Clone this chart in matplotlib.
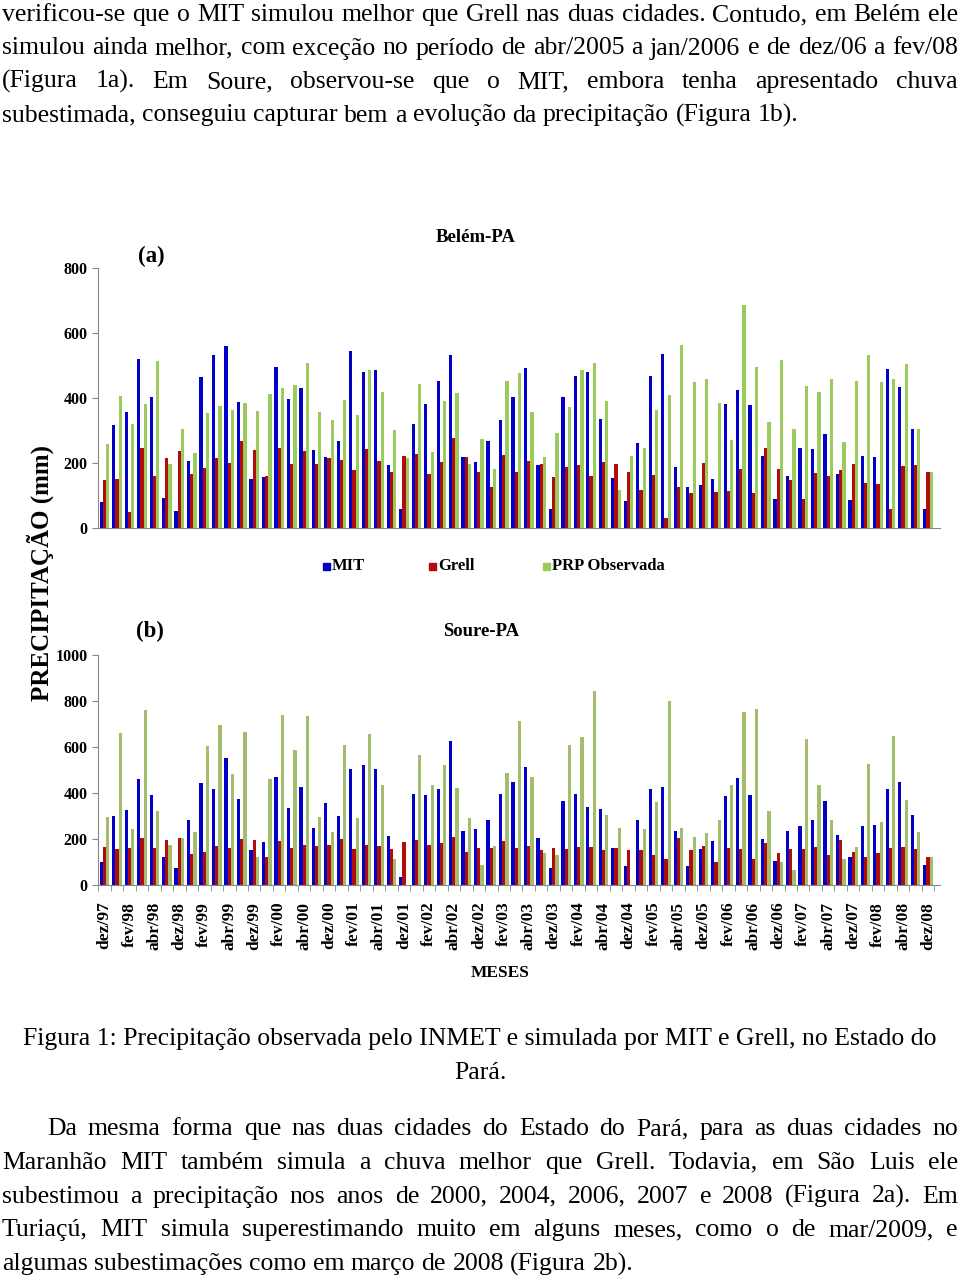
import matplotlib.pyplot as plt
from matplotlib.patches import Rectangle

# monthly rain (mm), dez..mai of each season, dez/97 .. dez/08
mit_belem = [79, 318, 357, 520, 403, 92, 52, 207, 464, 532, 560,
             389, 151, 158, 495, 396, 432, 240, 218, 268, 546, 481,
             485, 193, 57, 321, 382, 452, 531, 217, 204, 268, 331, 403,
             492, 193, 57, 403, 467, 481, 335, 154, 82, 262, 467,
             534, 187, 125, 132, 151, 382, 424, 378, 222, 89, 161,
             246, 243, 289, 167, 86, 222, 217, 489, 435, 304, 57]
grell_belem = [147, 150, 49, 245, 160, 214, 238, 166, 186, 214, 200,
               268, 239, 161, 246, 196, 236, 196, 214, 210, 178, 243,
               206, 172, 221, 229, 167, 204, 278, 217, 172, 125, 224, 172,
               206, 196, 158, 187, 193, 161, 204, 196, 172, 118, 163,
               30, 125, 107, 201, 110, 115, 183, 107, 246, 183, 147,
               89, 168, 161, 178, 196, 139, 135, 60, 190, 193, 172]
obs_belem = [260, 406, 320, 382, 514, 196, 306, 232, 353, 374, 363,
             386, 361, 411, 432, 439, 507, 358, 332, 393, 347, 485,
             420, 301, 214, 443, 233, 392, 414, 196, 275, 182, 452, 478,
             358, 217, 293, 371, 485, 509, 392, 118, 222, 246, 363,
             409, 563, 449, 459, 386, 272, 685, 495, 325, 517, 306,
             438, 417, 459, 265, 452, 531, 449, 457, 504, 306, 172]

mit_soure = [101, 302, 327, 462, 391, 122, 72, 282, 443, 416, 551,
             376, 151, 186, 470, 335, 426, 246, 355, 302, 506, 522,
             506, 212, 36, 396, 391, 416, 626, 236, 242, 282, 396, 446,
             511, 206, 72, 367, 396, 341, 331, 161, 82, 282, 416,
             426, 236, 82, 155, 191, 387, 466, 391, 201, 106, 236,
             255, 282, 367, 216, 121, 255, 262, 416, 446, 306, 86]
grell_soure = [165, 155, 161, 206, 161, 196, 206, 135, 145, 171, 161,
               201, 196, 121, 191, 161, 176, 171, 176, 201, 155, 176,
               171, 155, 186, 196, 176, 181, 210, 145, 161, 161, 191, 161,
               171, 151, 161, 155, 165, 165, 151, 161, 151, 151, 131,
               111, 206, 151, 171, 101, 161, 155, 111, 181, 141, 155,
               155, 165, 131, 196, 145, 121, 141, 161, 165, 155, 121]
obs_soure = [295, 662, 242, 763, 322, 176, 206, 232, 603, 695, 482,
             666, 121, 462, 741, 587, 735, 295, 232, 607, 291, 655,
             436, 111, 0, 567, 436, 522, 422, 291, 86, 171, 486, 715,
             470, 141, 131, 607, 642, 842, 306, 250, 0, 242, 363,
             801, 246, 210, 227, 282, 436, 753, 767, 322, 101, 66,
             635, 436, 282, 115, 165, 527, 272, 650, 371, 232, 121]

tick_labels = ['dez/97', 'fev/98', 'abr/98', 'dez/98', 'fev/99', 'abr/99',
               'dez/99', 'fev/00', 'abr/00', 'dez/00', 'fev/01', 'abr/01',
               'dez/01', 'fev/02', 'abr/02', 'dez/02', 'fev/03', 'abr/03',
               'dez/03', 'fev/04', 'abr/04', 'dez/04', 'fev/05', 'abr/05',
               'dez/05', 'fev/06', 'abr/06', 'dez/06', 'fev/07', 'abr/07',
               'dez/07', 'fev/08', 'abr/08', 'dez/08']
series_names = ['MIT', 'Grell', 'PRP Observada']

para1 = ["verificou-se que o MIT simulou melhor que Grell nas duas cidades. Contudo, em Belém ele",
         "simulou ainda melhor, com exceção no período de  abr/2005 a jan/2006 e de dez/06 a fev/08",
         "(Figura 1a). Em Soure, observou-se que o MIT, embora tenha apresentado chuva",
         "subestimada, conseguiu capturar bem a evolução da precipitação (Figura 1b)."]
para2 = ["Da mesma forma que nas duas cidades do Estado do Pará, para as duas cidades no",
         "Maranhão MIT também simula a chuva melhor que Grell. Todavia, em São Luis ele",
         "subestimou a precipitação nos anos de 2000, 2004, 2006, 2007 e 2008 (Figura 2a).  Em",
         "Turiaçú, MIT simula superestimando muito em alguns meses, como o de mar/2009, e",
         "algumas subestimações como em março de 2008 (Figura 2b)."]

W, H = 960, 1277
fig = plt.figure(figsize=(W / 100, H / 100), dpi=100)
serif = 'Liberation Serif'
txt_size = 18.5

blue, red = '#0000c8', '#b00c0c'
greens = ['#9acb5c', '#a3bd6c']
n = len(mit_belem)
x = list(range(n))
bw = 0.26


def fx(px):
    return px / W


def fy(py):
    return 1 - py / H


def bars(ax, mit, grell, obs, green, ymax, step):
    ax.bar([i - bw for i in x], mit, bw, color=blue)
    ax.bar(x, grell, bw, color=red)
    ax.bar([i + bw for i in x], obs, bw, color=green)
    ax.set_xlim(-0.52, n - 0.04)
    ax.set_ylim(0, ymax)
    ax.set_yticks(range(0, ymax + 1, step))
    for s in ['top', 'right']:
        ax.spines[s].set_visible(False)
    for s in ['left', 'bottom']:
        ax.spines[s].set_color('#888888')
    ax.tick_params(axis='y', colors='#888888', labelcolor='black', length=4,
                   labelsize=11.5)
    for lab in ax.get_yticklabels():
        lab.set_fontfamily(serif)
        lab.set_fontweight('bold')


# (a) Belém
ax1 = fig.add_axes([fx(98), fy(528), fx(940 - 98), (528 - 268) / H])
bars(ax1, mit_belem, grell_belem, obs_belem, greens[0], 800, 200)
ax1.set_xticks([])

# (b) Soure
ax2 = fig.add_axes([fx(98), fy(885), fx(940 - 98), (885 - 655) / H])
bars(ax2, mit_soure, grell_soure, obs_soure, greens[1], 1000, 200)
ax2.set_xticks([i - 0.5 for i in range(n + 1)], minor=True)
ax2.set_xticks(range(0, n, 2))
ax2.set_xticklabels(tick_labels, rotation=90, fontfamily=serif,
                    fontweight='bold', fontsize=12.5)
ax2.tick_params(axis='x', which='major', length=0, pad=12)
ax2.tick_params(axis='x', which='minor', length=4, colors='#888888')

lab_kw = dict(fontfamily=serif, fontweight='bold', ha='center', va='center')
fig.text(fx(476), fy(237), 'Belém-PA', fontsize=13.5, **lab_kw)
fig.text(fx(481), fy(632), 'Soure-PA', fontsize=13.5, **lab_kw)
fig.text(fx(151), fy(256), '(a)', fontsize=16.5, **lab_kw)
fig.text(fx(150), fy(631), '(b)', fontsize=16.5, **lab_kw)
fig.text(fx(40), fy(573), 'PRECIPITAÇÃO (mm)', rotation=90, fontsize=18, **lab_kw)
fig.text(fx(500), fy(973), 'MESES', fontsize=12.5, **lab_kw)

# legend drawn by hand
for px, name, col in zip([323, 429, 543], series_names, [blue, red, greens[0]]):
    fig.patches.append(Rectangle((fx(px), fy(570)), fx(7), 7 / H, color=col,
                                 transform=fig.transFigure, figure=fig))
    fig.text(fx(px + 9), fy(566), name, fontfamily=serif, fontweight='bold',
             fontsize=12, va='center')

# body text
renderer = fig.canvas.get_renderer()


def line(text, y, x0=2, x1=958, justify=True):
    words = text.split()
    objs = [fig.text(0, fy(y), w, fontfamily=serif, fontsize=txt_size,
                     va='baseline') for w in words]
    widths = [o.get_window_extent(renderer).width for o in objs]
    if justify and len(words) > 1:
        gap = (x1 - x0 - sum(widths)) / (len(words) - 1)
    else:
        gap = txt_size * 0.25 * 100 / 72
    pos = x0
    for o, w in zip(objs, widths):
        o.set_x(fx(pos))
        pos += w + gap


for k, t in enumerate(para1):
    line(t, 21 + k * 33.5, justify=k < 3)

fig.text(0.5, fy(1045), 'Figura 1: Precipitação observada pelo INMET e simulada por MIT e Grell, no Estado do',
         fontfamily=serif, fontsize=txt_size, ha='center', va='baseline')
fig.text(0.5, fy(1079), 'Pará.', fontfamily=serif, fontsize=txt_size,
         ha='center', va='baseline')

for k, t in enumerate(para2):
    line(t, 1135 + k * 33.8, x0=47 if k == 0 else 2, justify=k < 4)

fig.savefig('out.png', dpi=100)
